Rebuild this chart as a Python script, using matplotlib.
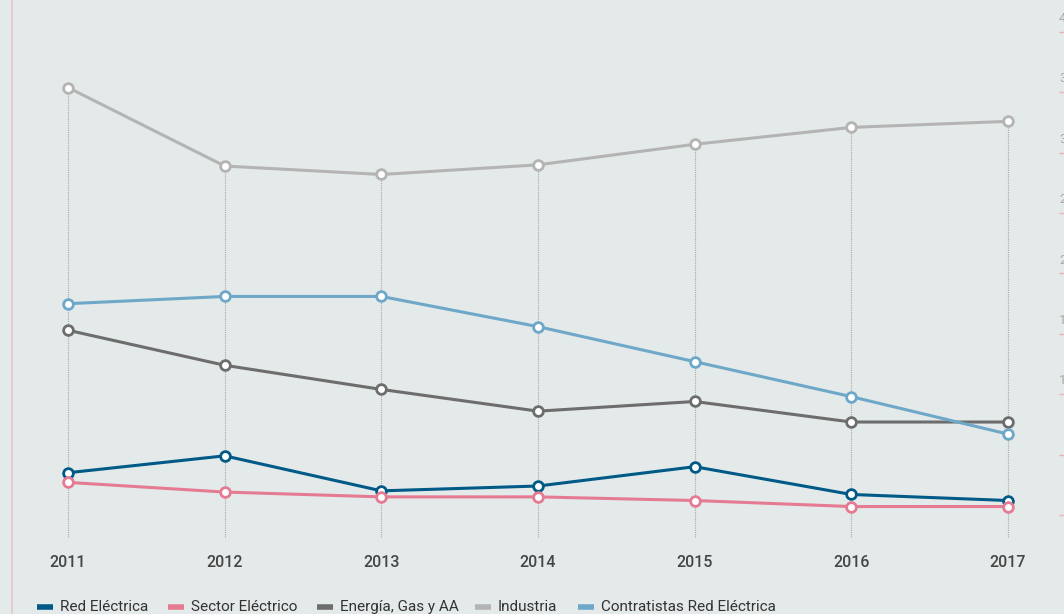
import matplotlib.pyplot as plt
from matplotlib.lines import Line2D
from matplotlib import transforms
import numpy as np

# Series per year
years = [2011, 2012, 2013, 2014, 2015, 2016, 2017]
red_electrica = [3.5, 4.9, 2.0, 2.4, 4.0, 1.7, 1.2]
sector_electrico = [2.7, 1.9, 1.5, 1.5, 1.2, 0.7, 0.7]
energia_gas_aa = [15.3, 12.4, 10.4, 8.6, 9.4, 7.7, 7.7]
industria = [35.4, 28.9, 28.2, 29.0, 30.7, 32.1, 32.6]
contratistas = [17.5, 18.1, 18.1, 15.6, 12.7, 9.8, 6.7]

y_ticks = [0, 5, 10, 15, 20, 25, 30, 35, 40]

series = [
    ("Red Eléctrica", red_electrica, "#005a87"),
    ("Sector Eléctrico", sector_electrico, "#e57b93"),
    ("Energía, Gas y AA", energia_gas_aa, "#6d6d6d"),
    ("Industria", industria, "#b4b4b4"),
    ("Contratistas Red Eléctrica", contratistas, "#6ea8c9"),
]

FONT = "Roboto"
BG = "#e4e9e9"
W, H = 1064, 614

fig = plt.figure(figsize=(W / 100, H / 100), dpi=100, facecolor=BG)

# axes placed in pixel terms
L, R, T, B = 20, 1059, 20, 545
ax = fig.add_axes([L / W, 1 - B / H, (R - L) / W, (B - T) / H])
ax.set_facecolor(BG)

px_year = 156.67
ax.set_xlim(2011 - (68 - L) / px_year, 2017 + (R - 1008) / px_year)
px_unit = (515 - 32) / 40
ax.set_ylim(-(B - 515) / px_unit, 40 + (32 - T) / px_unit)

# dotted guides from the highest point of each year down
tops = np.max([s[1] for s in series], axis=0)
ax.vlines(years, -1.8, tops, colors="#a9a9a9", linestyles=(0, (1, 1)), lw=0.8, zorder=1)

for name, vals, col in series:
    ax.plot(years, vals, color=col, lw=2.2, marker="o", ms=7, mfc="white",
            mec=col, mew=2.0, zorder=3, solid_capstyle="round")

for s in ["top", "left", "bottom", "right"]:
    ax.spines[s].set_visible(False)

ax.set_xticks(years)
ax.set_xticklabels([str(y) for y in years], fontsize=11.5, color="#454545",
                   fontweight="medium", family=FONT)
ax.tick_params(axis="x", length=0, pad=7)

# right scale: short pink ticks, labels sitting above them
ax.yaxis.tick_right()
ax.set_yticks(y_ticks)
ax.set_yticklabels([])
ax.tick_params(axis="y", direction="out", length=5, width=1, color="#eab3bd")
lab_tr = transforms.offset_copy(ax.get_yaxis_transform(), fig=fig, x=10.8, y=5.0, units="points")
for v in y_ticks:
    ax.text(1.0, v, str(v), transform=lab_tr, ha="right", va="bottom",
            fontsize=9.5, color="#a9a9a9", family=FONT, clip_on=False)

# thin pink rule on the left edge
fig.add_artist(Line2D([12 / W, 12 / W], [0, 1], color="#eac6cd", lw=1.2))

# legend row along the bottom
leg_x = [37, 168, 317, 475, 578]
leg_y = 1 - 607 / H
for x0, (name, _, col) in zip(leg_x, series):
    fig.add_artist(Line2D([x0 / W, (x0 + 16) / W], [leg_y, leg_y], color=col, lw=4,
                          solid_capstyle="butt"))
    fig.text((x0 + 23) / W, leg_y, name, ha="left", va="center", fontsize=11,
             color="#333333", family=FONT)

fig.savefig("out.png", dpi=100, facecolor=BG)
